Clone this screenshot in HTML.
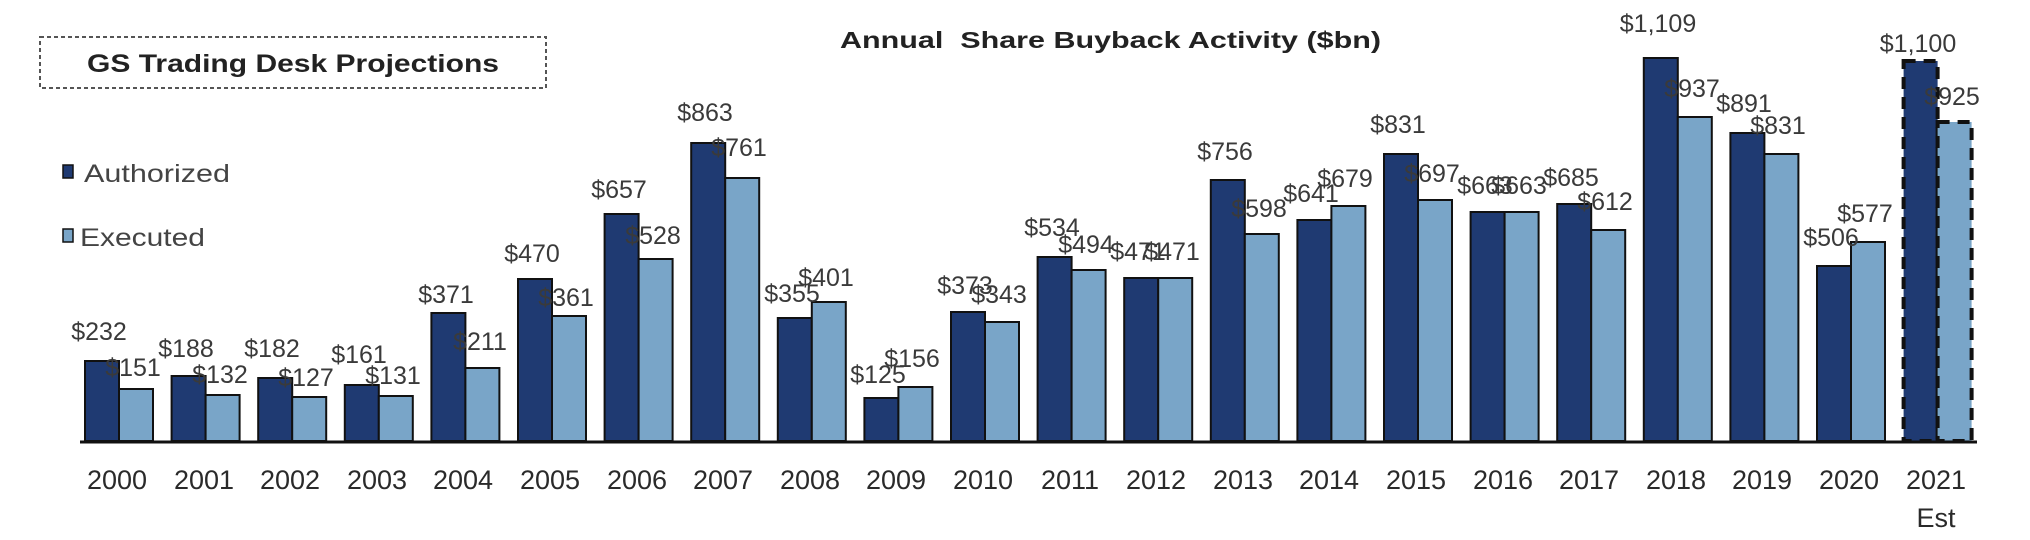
<!DOCTYPE html>
<html><head><meta charset="utf-8"><style>
html,body{margin:0;padding:0;background:#fff;}
svg{display:block;}
.v{font-family:"Liberation Sans",sans-serif;font-size:25px;fill:#3a3a3a;text-anchor:middle;}
.y{font-family:"Liberation Sans",sans-serif;font-size:27px;fill:#2a2a2a;text-anchor:middle;}
.a{fill:#1f3a72;stroke:#111;stroke-width:2;}
.e{fill:#79a5c8;stroke:#111;stroke-width:2;}
</style></head><body>
<svg width="2030" height="540" viewBox="0 0 2030 540" xmlns="http://www.w3.org/2000/svg">
<rect x="0" y="0" width="2030" height="540" fill="#fff"/>
<rect x="40" y="37" width="506" height="51" fill="none" stroke="#555" stroke-width="2" stroke-dasharray="4,3"/>
<text x="87" y="72" font-family="Liberation Sans,sans-serif" font-size="25" font-weight="bold" fill="#222" textLength="412" lengthAdjust="spacingAndGlyphs">GS Trading Desk Projections</text>
<text x="840" y="48" font-family="Liberation Sans,sans-serif" font-size="23" font-weight="bold" fill="#222" textLength="541" lengthAdjust="spacingAndGlyphs" xml:space="preserve">Annual  Share Buyback Activity ($bn)</text>
<rect x="63" y="165" width="10" height="13" fill="#1f3a72" stroke="#111" stroke-width="1.5"/>
<text x="84" y="182" font-family="Liberation Sans,sans-serif" font-size="25" fill="#444" textLength="146" lengthAdjust="spacingAndGlyphs">Authorized</text>
<rect x="63" y="229" width="10" height="13" fill="#79a5c8" stroke="#111" stroke-width="1.5"/>
<text x="80" y="246" font-family="Liberation Sans,sans-serif" font-size="25" fill="#444" textLength="125" lengthAdjust="spacingAndGlyphs">Executed</text>

<g>
<rect class="a" x="85" y="361" width="34" height="80"/><rect class="e" x="119" y="389" width="34" height="52"/>
<rect class="a" x="171.6" y="376" width="34" height="65"/><rect class="e" x="205.6" y="395" width="34" height="46"/>
<rect class="a" x="258.2" y="378" width="34" height="63"/><rect class="e" x="292.2" y="397" width="34" height="44"/>
<rect class="a" x="344.8" y="385" width="34" height="56"/><rect class="e" x="378.8" y="396" width="34" height="45"/>
<rect class="a" x="431.4" y="313" width="34" height="128"/><rect class="e" x="465.4" y="368" width="34" height="73"/>
<rect class="a" x="518" y="279" width="34" height="162"/><rect class="e" x="552" y="316" width="34" height="125"/>
<rect class="a" x="604.6" y="214" width="34" height="227"/><rect class="e" x="638.6" y="259" width="34" height="182"/>
<rect class="a" x="691.2" y="143" width="34" height="298"/><rect class="e" x="725.2" y="178" width="34" height="263"/>
<rect class="a" x="777.8" y="318" width="34" height="123"/><rect class="e" x="811.8" y="302" width="34" height="139"/>
<rect class="a" x="864.4" y="398" width="34" height="43"/><rect class="e" x="898.4" y="387" width="34" height="54"/>
<rect class="a" x="951" y="312" width="34" height="129"/><rect class="e" x="985" y="322" width="34" height="119"/>
<rect class="a" x="1037.6" y="257" width="34" height="184"/><rect class="e" x="1071.6" y="270" width="34" height="171"/>
<rect class="a" x="1124.2" y="278" width="34" height="163"/><rect class="e" x="1158.2" y="278" width="34" height="163"/>
<rect class="a" x="1210.8" y="180" width="34" height="261"/><rect class="e" x="1244.8" y="234" width="34" height="207"/>
<rect class="a" x="1297.4" y="220" width="34" height="221"/><rect class="e" x="1331.4" y="206" width="34" height="235"/>
<rect class="a" x="1384" y="154" width="34" height="287"/><rect class="e" x="1418" y="200" width="34" height="241"/>
<rect class="a" x="1470.6" y="212" width="34" height="229"/><rect class="e" x="1504.6" y="212" width="34" height="229"/>
<rect class="a" x="1557.2" y="204" width="34" height="237"/><rect class="e" x="1591.2" y="230" width="34" height="211"/>
<rect class="a" x="1643.8" y="58" width="34" height="383"/><rect class="e" x="1677.8" y="117" width="34" height="324"/>
<rect class="a" x="1730.4" y="133" width="34" height="308"/><rect class="e" x="1764.4" y="154" width="34" height="287"/>
<rect class="a" x="1817" y="266" width="34" height="175"/><rect class="e" x="1851" y="242" width="34" height="199"/>
<rect x="1903.6" y="61" width="34" height="380" fill="#1f3a72" stroke="#111" stroke-width="4" stroke-dasharray="12,8"/>
<rect x="1937.6" y="122" width="34" height="319" fill="#79a5c8" stroke="#111" stroke-width="4" stroke-dasharray="12,8"/>
</g>
<line x1="80" y1="442" x2="1977" y2="442" stroke="#111" stroke-width="3"/>

<g>
<text class="v" x="99" y="340">$232</text><text class="v" x="133" y="376">$151</text>
<text class="v" x="186" y="357">$188</text><text class="v" x="220" y="383">$132</text>
<text class="v" x="272" y="357">$182</text><text class="v" x="306" y="386">$127</text>
<text class="v" x="359" y="363">$161</text><text class="v" x="393" y="384">$131</text>
<text class="v" x="446" y="303">$371</text><text class="v" x="480" y="350">$211</text>
<text class="v" x="532" y="262">$470</text><text class="v" x="566" y="306">$361</text>
<text class="v" x="619" y="198">$657</text><text class="v" x="653" y="244">$528</text>
<text class="v" x="705" y="121">$863</text><text class="v" x="739" y="156">$761</text>
<text class="v" x="792" y="302">$355</text><text class="v" x="826" y="286">$401</text>
<text class="v" x="878" y="383">$125</text><text class="v" x="912" y="367">$156</text>
<text class="v" x="965" y="294">$373</text><text class="v" x="999" y="303">$343</text>
<text class="v" x="1052" y="236">$534</text><text class="v" x="1086" y="253">$494</text>
<text class="v" x="1138" y="260">$471</text><text class="v" x="1172" y="260">$471</text>
<text class="v" x="1225" y="160">$756</text><text class="v" x="1259" y="217">$598</text>
<text class="v" x="1311" y="202">$641</text><text class="v" x="1345" y="187">$679</text>
<text class="v" x="1398" y="133">$831</text><text class="v" x="1432" y="182">$697</text>
<text class="v" x="1485" y="194">$663</text><text class="v" x="1519" y="194">$663</text>
<text class="v" x="1571" y="186">$685</text><text class="v" x="1605" y="210">$612</text>
<text class="v" x="1658" y="32">$1,109</text><text class="v" x="1692" y="97">$937</text>
<text class="v" x="1744" y="112">$891</text><text class="v" x="1778" y="134">$831</text>
<text class="v" x="1831" y="246">$506</text><text class="v" x="1865" y="222">$577</text>
<text class="v" x="1918" y="52">$1,100</text><text class="v" x="1952" y="105">$925</text>
</g>

<g>
<text class="y" x="117" y="489">2000</text>
<text class="y" x="204" y="489">2001</text>
<text class="y" x="290" y="489">2002</text>
<text class="y" x="377" y="489">2003</text>
<text class="y" x="463" y="489">2004</text>
<text class="y" x="550" y="489">2005</text>
<text class="y" x="637" y="489">2006</text>
<text class="y" x="723" y="489">2007</text>
<text class="y" x="810" y="489">2008</text>
<text class="y" x="896" y="489">2009</text>
<text class="y" x="983" y="489">2010</text>
<text class="y" x="1070" y="489">2011</text>
<text class="y" x="1156" y="489">2012</text>
<text class="y" x="1243" y="489">2013</text>
<text class="y" x="1329" y="489">2014</text>
<text class="y" x="1416" y="489">2015</text>
<text class="y" x="1503" y="489">2016</text>
<text class="y" x="1589" y="489">2017</text>
<text class="y" x="1676" y="489">2018</text>
<text class="y" x="1762" y="489">2019</text>
<text class="y" x="1849" y="489">2020</text>
<text class="y" x="1936" y="489">2021</text>
<text class="y" x="1936" y="527">Est</text>
</g>
</svg>
</body></html>
